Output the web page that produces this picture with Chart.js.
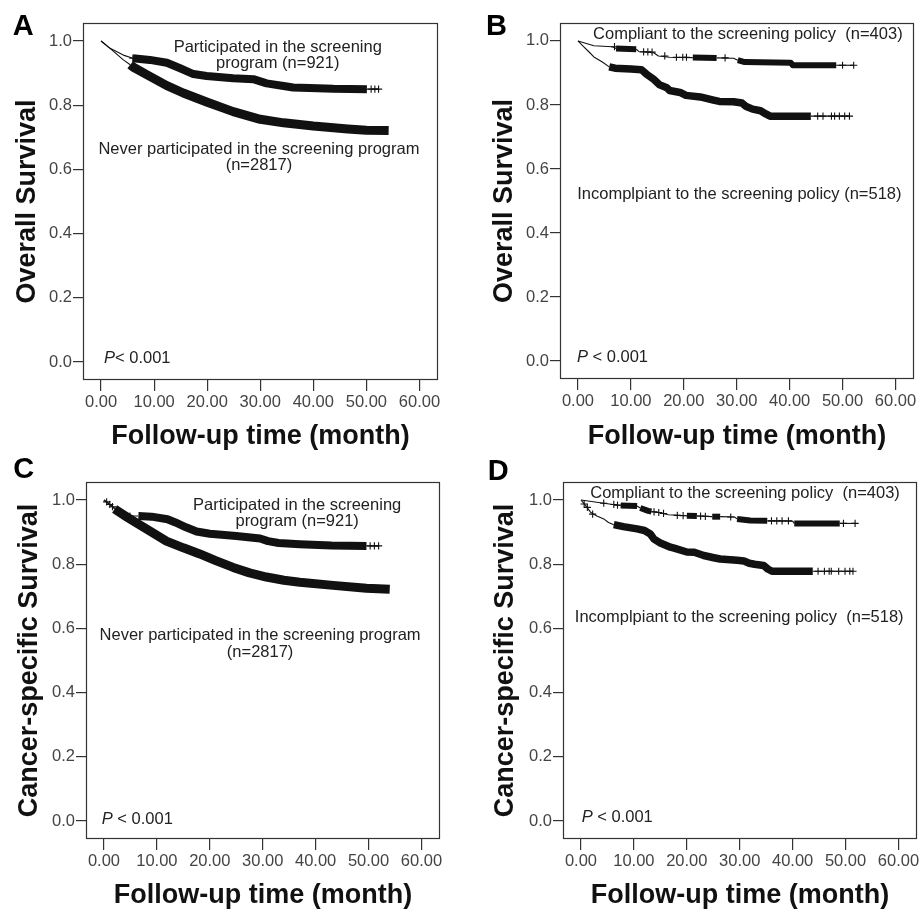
<!DOCTYPE html>
<html><head><meta charset="utf-8">
<script src="https://cdn.jsdelivr.net/npm/chart.js@4.4.1/dist/chart.umd.min.js"></script>
<style>
html,body{margin:0;padding:0;background:#fff;}
#wrap{position:relative;width:922px;height:911px;overflow:hidden;background:#fff;}
canvas{position:absolute;}
</style></head><body>
<div id="wrap">
<canvas id="cA" width="461" height="456" style="left:0px;top:0px;width:461px;height:456px"></canvas>
<canvas id="cB" width="461" height="456" style="left:461px;top:0px;width:461px;height:456px"></canvas>
<canvas id="cC" width="461" height="456" style="left:0px;top:455px;width:461px;height:456px"></canvas>
<canvas id="cD" width="461" height="456" style="left:461px;top:455px;width:461px;height:456px"></canvas>
</div>
<script>
// ---------- axis ticks ----------
const xTicks = [0, 10, 20, 30, 40, 50, 60];
const yTicks = [0, 0.2, 0.4, 0.6, 0.8, 1.0];

// ---------- Panel A: overall survival ----------
const aPartT = [0, 1.7, 4.2, 6.0, 9.2, 12.4, 14.9, 17.4, 19.9, 24.9, 28.7, 31.2, 34.4, 36.2, 43.8, 50.1, 52.3];
const aPartS = [1.0, 0.977, 0.956, 0.946, 0.941, 0.932, 0.915, 0.897, 0.891, 0.884, 0.881, 0.868, 0.860, 0.855, 0.851, 0.850, 0.850];
const aPartCensT = [6.0, 50.9, 51.6, 52.3];
const aPartCensS = [0.946, 0.850, 0.850, 0.850];
const aNeverT = [0, 1.7, 4.2, 5.5, 6.1, 8.6, 12.4, 15.5, 19.9, 24.9, 30, 34.4, 40, 46.5, 50, 54.2];
const aNeverS = [1.0, 0.977, 0.941, 0.926, 0.918, 0.895, 0.861, 0.838, 0.810, 0.780, 0.756, 0.745, 0.735, 0.726, 0.722, 0.721];

// ---------- Panel B: overall survival, compliance ----------
const bCompT = [0, 3, 6.5, 7.2, 11, 11.6, 14.3, 15.2, 17.3, 21.7, 26.2, 29.4, 30.2, 31.5, 40.2, 40.6, 48.8, 52.1];
const bCompS = [1.0, 0.985, 0.982, 0.976, 0.974, 0.966, 0.963, 0.953, 0.949, 0.948, 0.947, 0.946, 0.940, 0.934, 0.932, 0.924, 0.924, 0.924];
const bCompCensT = [6.9, 12.4, 13.2, 14.0, 16.4, 18.6, 19.8, 20.5, 27.8, 50.0, 52.1];
const bCompCensS = [0.982, 0.966, 0.966, 0.965, 0.953, 0.949, 0.949, 0.949, 0.947, 0.924, 0.924];
const bIncT = [0, 1, 2, 3, 4.6, 5.9, 7, 10, 12, 12.9, 14.3, 15.4, 16.8, 17.3, 19.3, 20.4, 23.1, 25.6, 26.7, 29.4, 31, 31.8, 33, 34.5, 35.5, 36.3, 44, 51.3];
const bIncS = [1.0, 0.983, 0.967, 0.950, 0.934, 0.919, 0.915, 0.912, 0.910, 0.897, 0.880, 0.863, 0.854, 0.845, 0.839, 0.830, 0.825, 0.815, 0.811, 0.810, 0.806, 0.795, 0.787, 0.782, 0.772, 0.765, 0.765, 0.765];
const bIncCensT = [45.3, 46.3, 47.9, 48.5, 49.4, 50.4, 51.3];
const bIncCensS = [0.765, 0.765, 0.765, 0.765, 0.765, 0.765, 0.765];

// ---------- Panel C: cancer-specific survival ----------
const cPartT = [0, 2, 4.9, 6.5, 9, 12, 13.5, 15.5, 17.5, 20, 25, 29.5, 31, 33, 37, 43, 49.6, 51.9];
const cPartS = [1.0, 0.975, 0.950, 0.950, 0.948, 0.940, 0.930, 0.915, 0.902, 0.895, 0.888, 0.880, 0.872, 0.866, 0.862, 0.858, 0.857, 0.857];
const cPartCensT = [4.9, 50.3, 51.1, 51.9];
const cPartCensS = [0.950, 0.857, 0.857, 0.857];
const cNeverT = [0, 0.8, 2, 4.5, 6.2, 8.7, 11.8, 15, 18.1, 21, 24.4, 27.5, 30.7, 34, 37, 43.3, 49.6, 54];
const cNeverS = [1.0, 0.990, 0.972, 0.945, 0.928, 0.903, 0.872, 0.851, 0.832, 0.812, 0.790, 0.773, 0.760, 0.750, 0.744, 0.734, 0.725, 0.722];
const cNeverCensT = [0.5, 1.1, 1.6];
const cNeverCensS = [0.994, 0.986, 0.979];

// ---------- Panel D: cancer-specific survival, compliance ----------
const dCompT = [0, 4.3, 7.5, 10.6, 11.2, 12.7, 13.3, 14.4, 16.5, 20, 21.9, 24.8, 26.3, 29.0, 29.5, 32, 35.2, 40.0, 40.3, 48.9, 52];
const dCompS = [1.0, 0.990, 0.983, 0.981, 0.975, 0.966, 0.964, 0.962, 0.954, 0.951, 0.950, 0.948, 0.948, 0.947, 0.941, 0.936, 0.935, 0.934, 0.927, 0.927, 0.927];
const dCompCensT = [4.3, 6.2, 6.9, 13.8, 14.7, 15.6, 18.2, 19.3, 22.6, 23.5, 28.3, 36.0, 37.0, 38.0, 39.2, 49.6, 51.8];
const dCompCensS = [0.990, 0.986, 0.984, 0.963, 0.961, 0.958, 0.952, 0.951, 0.950, 0.949, 0.947, 0.935, 0.935, 0.935, 0.935, 0.927, 0.927];
const dIncT = [0, 0.5, 1, 1.8, 3, 4.3, 5.2, 6.2, 8, 10.6, 12, 13.1, 13.8, 15, 16.9, 17.6, 20, 21.4, 23.2, 25.1, 26.3, 29.5, 30.8, 31.8, 32.8, 34.5, 35.3, 36.1, 43.8, 51.4];
const dIncS = [1.0, 0.990, 0.980, 0.962, 0.950, 0.941, 0.930, 0.923, 0.917, 0.910, 0.905, 0.894, 0.878, 0.866, 0.853, 0.850, 0.838, 0.837, 0.827, 0.820, 0.816, 0.812, 0.810, 0.803, 0.800, 0.796, 0.785, 0.778, 0.778, 0.778];
const dIncCensT = [0.6, 1.2, 2.2, 44.8, 46.0, 46.9, 47.3, 48.7, 49.9, 50.8, 51.4];
const dIncCensS = [0.9875, 0.977, 0.956, 0.778, 0.778, 0.778, 0.778, 0.778, 0.778, 0.778, 0.778];

// ---------- text ----------
const xTitle = 'Follow-up time (month)';
const yTitleOS = 'Overall Survival';
const yTitleCSS = 'Cancer-specific Survival';
const lblPart = ['Participated in the screening', 'program (n=921)'];
const lblNever = ['Never participated in the screening program', '(n=2817)'];
const lblCompl = 'Compliant to the screening policy  (n=403)';
const lblIncB = 'Incomplpiant to the screening policy (n=518)';
const lblIncD = 'Incomplpiant to the screening policy  (n=518)';

// ---------- rendering helpers ----------
const FAM = '"Liberation Sans", Arial, Helvetica, sans-serif';
const INK = '#111';
const THIN = 1.1;

function pts(T, S) { return T.map((t, i) => ({ x: t, y: S[i] })); }
function segWidth(bands, thick) {
  return ctx => {
    const m = (ctx.p0.parsed.x + ctx.p1.parsed.x) / 2;
    return bands.some(r => m >= r[0] && m <= r[1]) ? thick : THIN;
  };
}
function curve(T, S, bands, thick) {
  return {
    data: pts(T, S), showLine: true, borderColor: INK, backgroundColor: INK,
    borderWidth: THIN, pointRadius: 0, pointHoverRadius: 0, tension: 0,
    borderCapStyle: 'butt', borderJoinStyle: 'round',
    segment: { borderWidth: segWidth(bands, thick) }
  };
}
function marks(T, S) {
  return {
    data: pts(T, S), showLine: false, pointStyle: 'cross', pointRadius: 3.6,
    pointHoverRadius: 3.6, borderColor: INK, backgroundColor: INK, pointBorderWidth: 1.1, borderWidth: 1.1
  };
}

const decor = {
  id: 'decor',
  afterDraw(chart, args, o) {
    const { ctx, chartArea: a } = chart;
    const xs = chart.scales.x, ys = chart.scales.y;
    ctx.save();
    ctx.strokeStyle = '#333';
    ctx.lineWidth = 1.2;
    ctx.strokeRect(Math.round(a.left) + 0.5, Math.round(a.top) + 0.5,
      Math.round(a.right - a.left) - 1, Math.round(a.bottom - a.top) - 1);
    ctx.fillStyle = '#000';
    ctx.font = 'bold 29px ' + FAM;
    ctx.textAlign = 'left';
    ctx.textBaseline = 'alphabetic';
    ctx.fillText(o.letter, o.lx, o.ly);
    ctx.fillStyle = '#222';
    ctx.font = '16.5px ' + FAM;
    ctx.textBaseline = 'middle';
    for (const n of o.notes) {
      ctx.textAlign = 'center';
      ctx.fillText(n.text, xs.getPixelForValue(n.x), ys.getPixelForValue(n.y));
    }
    ctx.textAlign = 'left';
    const px = xs.getPixelForValue(o.p.x), py = ys.getPixelForValue(o.p.y);
    ctx.font = 'italic 16.5px ' + FAM;
    ctx.fillText('P', px, py);
    const w = ctx.measureText('P').width;
    ctx.font = '16.5px ' + FAM;
    ctx.fillText(o.p.text, px + w, py);
    ctx.restore();
  }
};

function makeChart(cfg) {
  new Chart(document.getElementById(cfg.id), {
    type: 'scatter',
    data: { datasets: cfg.datasets },
    plugins: [decor],
    options: {
      responsive: false, animation: false, devicePixelRatio: 1,
      events: [],
      layout: { padding: cfg.pad },
      plugins: { legend: { display: false }, tooltip: { enabled: false }, title: { display: false }, decor: cfg.decor },
      scales: {
        x: {
          type: 'linear', position: 'bottom', min: -3.4, max: 63.5,
          afterBuildTicks: s => { s.ticks = xTicks.map(v => ({ value: v })); },
          afterFit: s => { s.height = cfg.xH; },
          ticks: { autoSkip: false, maxRotation: 0, padding: 2, color: '#444', font: { family: FAM, size: 16.5 },
                   callback: v => Number(v).toFixed(2) },
          grid: { drawOnChartArea: false, drawTicks: true, tickLength: 11, color: '#333', lineWidth: 1.2 },
          border: { display: false },
          title: { display: true, text: xTitle, color: '#111', padding: { top: 0, bottom: cfg.xTitlePad },
                   font: { family: FAM, size: 27, weight: 'bold', lineHeight: 1 } }
        },
        y: {
          type: 'linear', position: 'left', min: -0.056, max: 1.056,
          afterBuildTicks: s => { s.ticks = yTicks.map(v => ({ value: v })); },
          afterFit: s => { s.width = cfg.yW; },
          ticks: { autoSkip: false, padding: 1, color: '#444', font: { family: FAM, size: 16.5 },
                   callback: v => Number(v).toFixed(1) },
          grid: { drawOnChartArea: false, drawTicks: true, tickLength: 10, color: '#333', lineWidth: 1.2 },
          border: { display: false },
          title: { display: true, text: cfg.yTitle, color: '#111', padding: { top: cfg.yTitlePad, bottom: 0 },
                   font: { family: FAM, size: 27, weight: 'bold', lineHeight: 1 } }
        }
      }
    }
  });
}

makeChart({
  id: 'cA', yTitle: yTitleOS, pad: { left: 0, top: 23, right: 23, bottom: 0 }, yW: 83, xH: 76, yTitlePad: 13.8, xTitlePad: 5.9,
  datasets: [
    curve(aNeverT, aNeverS, [[5.5, 54.2]], 9),
    curve(aPartT, aPartS, [[6.0, 50.1]], 8),
    marks(aPartCensT, aPartCensS)
  ],
  decor: {
    letter: 'A', lx: 12.7, ly: 35,
    notes: [
      { text: lblPart[0], x: 33.3, y: 0.981 }, { text: lblPart[1], x: 33.3, y: 0.931 },
      { text: lblNever[0], x: 29.75, y: 0.6625 }, { text: lblNever[1], x: 29.75, y: 0.6125 }
    ],
    p: { text: '< 0.001', x: 0.56, y: 0.0125 }
  }
});

makeChart({
  id: 'cB', yTitle: yTitleOS, pad: { left: 0, top: 23, right: 8, bottom: 0 }, yW: 99, xH: 77, yTitlePad: 29.7, xTitlePad: 5.9,
  datasets: [
    curve(bIncT, bIncS, [[5.9, 44]], 7.5),
    marks(bIncCensT, bIncCensS),
    curve(bCompT, bCompS, [[7.2, 11], [21.7, 26.2], [30.2, 48.8]], 6),
    marks(bCompCensT, bCompCensS)
  ],
  decor: {
    letter: 'B', lx: 25, ly: 35,
    notes: [ { text: lblCompl, x: 32.1, y: 1.021 }, { text: lblIncB, x: 30.5, y: 0.522 } ],
    p: { text: ' < 0.001', x: -0.2, y: 0.0106 }
  }
});

makeChart({
  id: 'cC', yTitle: yTitleCSS, pad: { left: 0, top: 27, right: 21, bottom: 0 }, yW: 86, xH: 72, yTitlePad: 16.5, xTitlePad: 1.9,
  datasets: [
    curve(cNeverT, cNeverS, [[2, 54]], 9),
    marks(cNeverCensT, cNeverCensS),
    curve(cPartT, cPartS, [[6.5, 49.6]], 8),
    marks(cPartCensT, cPartCensS)
  ],
  decor: {
    letter: 'C', lx: 13.3, ly: 23.3,
    notes: [
      { text: lblPart[0], x: 36.5, y: 0.984 }, { text: lblPart[1], x: 36.5, y: 0.932 },
      { text: lblNever[0], x: 29.5, y: 0.579 }, { text: lblNever[1], x: 29.5, y: 0.5255 }
    ],
    p: { text: ' < 0.001', x: -0.43, y: 0.006 }
  }
});

makeChart({
  id: 'cD', yTitle: yTitleCSS, pad: { left: 0, top: 27, right: 5, bottom: 0 }, yW: 102, xH: 72, yTitlePad: 31.5, xTitlePad: 1.9,
  datasets: [
    curve(dIncT, dIncS, [[6.2, 43.8]], 7.5),
    marks(dIncCensT, dIncCensS),
    curve(dCompT, dCompS, [[7.5, 10.6], [11.2, 13.3], [20, 21.9], [24.8, 26.3], [29.5, 35.2], [40.3, 48.9]], 6),
    marks(dCompCensT, dCompCensS)
  ],
  decor: {
    letter: 'D', lx: 26.7, ly: 25,
    notes: [ { text: lblCompl, x: 31.0, y: 1.02 }, { text: lblIncD, x: 29.9, y: 0.634 } ],
    p: { text: ' < 0.001', x: 0.13, y: 0.0106 }
  }
});
</script>
</body></html>
